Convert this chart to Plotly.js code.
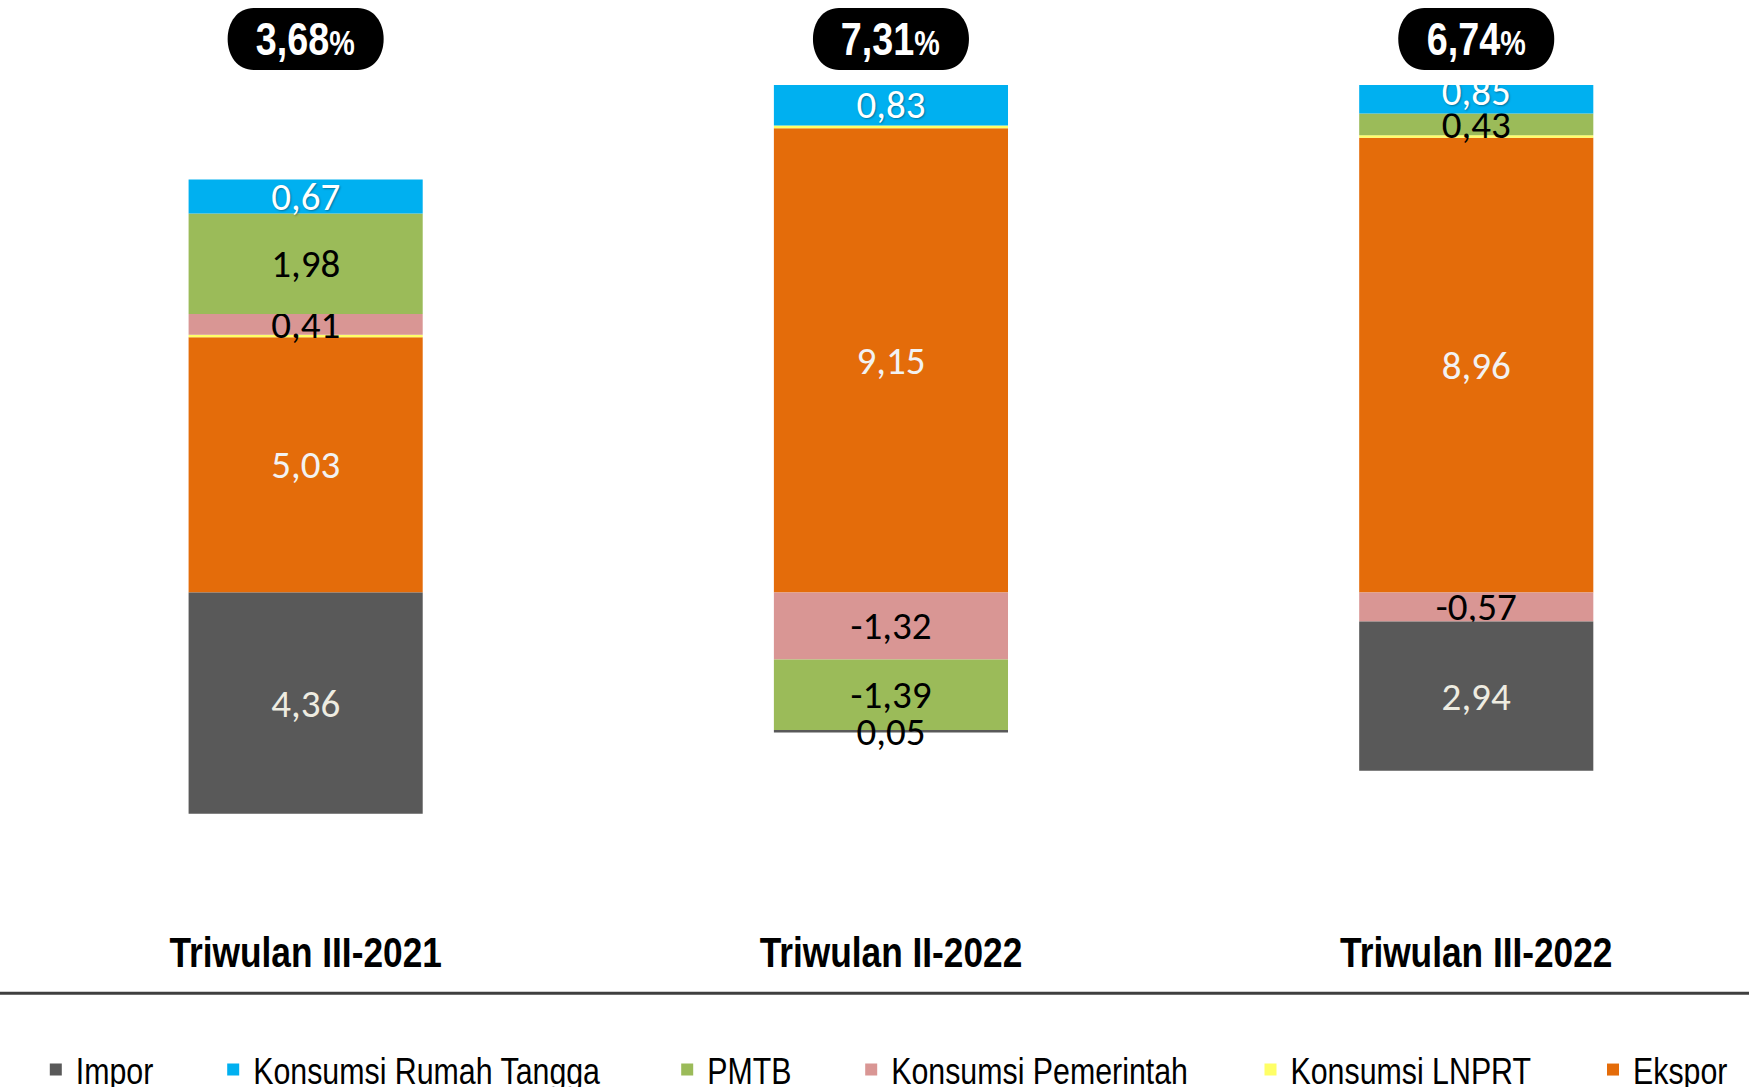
<!DOCTYPE html>
<html>
<head>
<meta charset="utf-8">
<script src="https://cdn.plot.ly/plotly-3.0.1.min.js"></script>
<style>
  html, body { margin: 0; padding: 0; background: #ffffff; }
  #chart { width: 1749px; height: 1087px; }
  /* Arial Narrow-like legend labels */
  #chart .infolayer g[class^="legend"] text {
    transform-box: fill-box;
    transform-origin: 0% 50%;
    transform: scaleX(0.82);
  }
</style>
</head>
<body>
<div id="chart"></div>
<script>
// ---- Data ----
const categories = ['Triwulan III-2021', 'Triwulan II-2022', 'Triwulan III-2022'];
const ekspor = [5.03, 9.15, 8.96];
const konsumsiLNPRT = [0.05, 0.05, 0.05];
const konsumsiPemerintah = [0.41, -1.32, -0.57];
const pmtb = [1.98, -1.39, 0.43];
const konsumsiRumahTangga = [0.67, 0.83, 0.85];
const impor = [-4.36, -0.05, -2.94];
const totals = [3.68, 7.31, 6.74];

// ---- Styling ----
const SANS = "'Liberation Sans', Arial, sans-serif";
const LABEL = "Carlito, Calibri, Lato, sans-serif";
const yRange = [-6, 10];
const xRange = [-0.5, 2.466];
const W = 1749, H = 1087;

function fmt(v) { return v.toFixed(2).replace('.', ','); }

function barTrace(name, values, color, legendId, textColors, opts) {
  opts = opts || {};
  return {
    type: 'bar',
    name: name,
    x: categories,
    y: values,
    width: 0.4,
    marker: { color: color, line: { width: 0 } },
    text: opts.noText ? values.map(() => '') : values.map(v => fmt(opts.abs ? Math.abs(v) : v)),
    textposition: 'inside',
    insidetextanchor: 'middle',
    textangle: 0,
    constraintext: 'none',
    insidetextfont: { family: LABEL, size: 39, color: textColors, shadow: opts.shadow || 'none' },
    legend: legendId,
    hoverinfo: 'name+y'
  };
}

const traces = [
  barTrace('Ekspor', ekspor, '#E46C0A', 'legend6', ['#F2F2F2', '#F2F2F2', '#F2F2F2']),
  barTrace('Konsumsi LNPRT', konsumsiLNPRT, '#FFFF66', 'legend5', ['#000', '#000', '#000'], { noText: true }),
  barTrace('Konsumsi Pemerintah', konsumsiPemerintah, '#D99694', 'legend4', ['#000', '#000', '#000']),
  barTrace('PMTB', pmtb, '#9BBB59', 'legend3', ['#000', '#000', '#000']),
  barTrace('Konsumsi Rumah Tangga', konsumsiRumahTangga, '#00B0F0', 'legend2', ['#FFFFFF', '#FFFFFF', '#FFFFFF'], { shadow: '1px 1px 2px rgba(0,0,0,0.35)' }),
  barTrace('Impor', impor, '#595959', 'legend', ['#EEECE1', '#000000', '#EEECE1'], { abs: true })
];

// legend placed in container pixels (text start - 40px), centre line at y=1070px
function legendAt(px) {
  return {
    xref: 'container', yref: 'container',
    x: px / W, y: (H - 1070) / H, xanchor: 'left', yanchor: 'middle',
    orientation: 'h',
    bgcolor: 'rgba(0,0,0,0)',
    font: { family: SANS, size: 37, color: '#000000' }
  };
}

// Total growth pills
const shapes = [];
const annotations = [];
const pillY = 1.0567;
categories.forEach((c, i) => {
  shapes.push({
    type: 'path',
    xref: 'x', yref: 'paper',
    xsizemode: 'pixel', ysizemode: 'pixel',
    xanchor: c, yanchor: pillY,
    path: 'M -52,31 L 52,31 C 68,31 78,17 78,0 C 78,-17 68,-31 52,-31 L -52,-31 C -68,-31 -78,-17 -78,0 C -78,17 -68,31 -52,31 Z',
    fillcolor: '#000000',
    line: { width: 0 },
    layer: 'above'
  });
  annotations.push({
    xref: 'x', yref: 'paper',
    x: c, y: pillY,
    xanchor: 'center', yanchor: 'middle',
    showarrow: false,
    text: '<b>' + fmt(totals[i]) + '</b><span style="font-size:35px"><b>%</b></span>',
    font: { family: SANS, size: 46, color: '#FFFFFF' }
  });
});

// bottom separator line
shapes.push({
  type: 'line', xref: 'paper', yref: 'paper',
  x0: -0.01, x1: 1.01, y0: -0.1184, y1: -0.1184,
  line: { color: '#3F3F3F', width: 3 },
  layer: 'above'
});

const zeroPos = (0 - yRange[0]) / (yRange[1] - yRange[0]);

const layout = {
  width: W,
  height: H,
  margin: { l: 13, r: 0, t: 85, b: 190, autoexpand: false },
  paper_bgcolor: '#FFFFFF',
  plot_bgcolor: '#FFFFFF',
  barmode: 'relative',
  xaxis: {
    type: 'category',
    range: xRange,
    showgrid: false, zeroline: false, showline: false,
    ticks: '',
    ticklabelstandoff: 26,
    tickfont: { family: SANS, size: 43, color: '#000000', weight: 'bold' }
  },
  xaxis2: {
    overlaying: 'x',
    anchor: 'free',
    position: zeroPos,
    type: 'linear',
    range: xRange,
    tickvals: [-0.5, 0.5, 1.5, 2.5],
    ticks: 'outside', ticklen: 13, tickwidth: 2, tickcolor: '#808080',
    showline: true, linecolor: '#808080', linewidth: 2,
    showticklabels: false, showgrid: false, zeroline: false
  },
  yaxis: {
    range: yRange,
    showgrid: false, zeroline: false, showline: false,
    showticklabels: false, ticks: ''
  },
  showlegend: true,
  legend: legendAt(35.8),
  legend2: legendAt(213.2),
  legend3: legendAt(667.2),
  legend4: legendAt(851.2),
  legend5: legendAt(1250.5),
  legend6: legendAt(1593),
  shapes: shapes,
  annotations: annotations
};

// Narrow (Arial Narrow-like) rendering of tick labels and pill texts
const RATIO = 0.82;
function condenseText(root) {
  const sel = root.querySelectorAll('.xtick text, .annotation-text');
  sel.forEach(t => {
    const leaves = Array.from(t.querySelectorAll('tspan')).filter(s => !s.querySelector('tspan'));
    const targets = leaves.length ? leaves : [t];
    targets.forEach(el => {
      if (el.getAttribute('data-condensed') === el.textContent && el.hasAttribute('textLength')) return;
      el.removeAttribute('textLength');
      el.removeAttribute('lengthAdjust');
      let L = 0;
      try { L = el.getComputedTextLength(); } catch (e) { L = 0; }
      if (L > 0) {
        el.setAttribute('textLength', (L * RATIO).toFixed(2));
        el.setAttribute('lengthAdjust', 'spacingAndGlyphs');
        el.setAttribute('data-condensed', el.textContent);
      }
    });
  });
}

const gd = document.getElementById('chart');
Plotly.newPlot(gd, traces, layout, { displayModeBar: false, staticPlot: true }).then(() => {
  condenseText(document);
  [0, 30, 100, 250, 500].forEach(ms => setTimeout(() => condenseText(document), ms));
});
</script>
</body>
</html>
